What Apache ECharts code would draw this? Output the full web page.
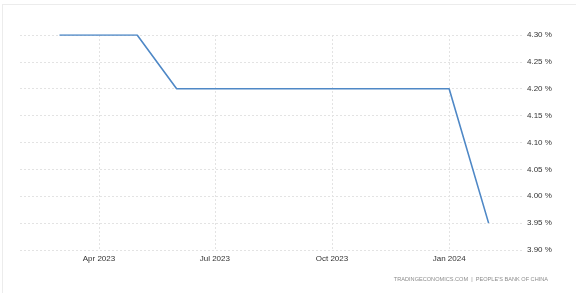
<!DOCTYPE html>
<html>
<head>
<meta charset="utf-8">
<script src="https://cdn.jsdelivr.net/npm/echarts@6/dist/echarts.min.js"></script>
<style>
html,body{margin:0;padding:0;background:#fff;}
#frame{position:absolute;left:2px;top:4px;width:574px;height:289px;border-top:1px solid #ececec;border-left:1px solid #ececec;}
#chart{position:absolute;left:0;top:0;width:576px;height:293px;}
</style>
</head>
<body>
<div id="frame"></div>
<div id="chart"></div>
<script>
const dates = ['2023-03-01','2023-04-01','2023-05-01','2023-06-01','2023-07-01','2023-08-01','2023-09-01','2023-10-01','2023-11-01','2023-12-01','2024-01-01','2024-02-01'];
const values = [4.30,4.30,4.30,4.20,4.20,4.20,4.20,4.20,4.20,4.20,4.20,3.95];
const xTickDates = ['2023-04-01','2023-07-01','2023-10-01','2024-01-01'];
const xTickLabels = ['Apr 2023','Jul 2023','Oct 2023','Jan 2024'];
const yMin = 3.90, yMax = 4.30, yStep = 0.05;
const sourceText = 'TRADINGECONOMICS.COM  |  PEOPLE\'S BANK OF CHINA';

const ts = d => new Date(d + 'T00:00:00Z').getTime();
const tickTs = xTickDates.map(ts);
const labelMap = {};
tickTs.forEach((t,i)=>{labelMap[t]=xTickLabels[i];});
const FONT = '"Liberation Sans Narrow", "Liberation Sans", sans-serif';

const chart = echarts.init(document.getElementById('chart'));
chart.setOption({
  animation:false,
  grid:{left:20,right:53,top:35,bottom:43},
  xAxis:{
    type:'value',
    min:ts('2023-01-29'), max:ts('2024-02-28'),
    axisLine:{show:false},
    axisTick:{show:false, customValues:tickTs},
    axisLabel:{customValues:tickTs, formatter:v=>labelMap[v]||'', color:'#333', fontSize:8, fontFamily:FONT, margin:5},
    splitLine:{show:true, lineStyle:{color:'#e3e3e3', type:[2,2], width:1}}
  },
  yAxis:{
    type:'value', position:'right', min:yMin, max:yMax, interval:yStep,
    axisLine:{show:false}, axisTick:{show:false},
    axisLabel:{formatter:v=>v.toFixed(2)+' %', color:'#333', fontSize:8, fontFamily:FONT, margin:4},
    splitLine:{show:true, lineStyle:{color:'#e3e3e3', type:[2,2], width:1}}
  },
  series:[{
    type:'line', data:dates.map((d,i)=>[ts(d),values[i]]),
    showSymbol:false, lineStyle:{color:'#4f88c6', width:1.6}, itemStyle:{color:'#4f88c6'}
  }],
  graphic:[{type:'text', right:28, top:276, style:{text:sourceText, fill:'#8c8c8c', font:'5.6px ' + FONT}}]
});
</script>
</body>
</html>
